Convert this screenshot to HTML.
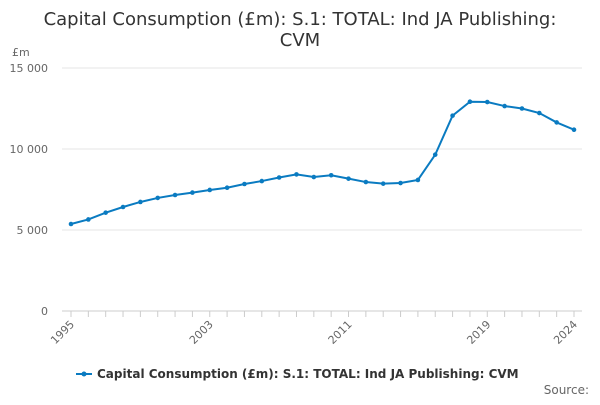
<!DOCTYPE html>
<html><head><meta charset="utf-8"><style>
body{margin:0;background:#fff;font-family:"Liberation Sans","DejaVu Sans",sans-serif;}
svg text{font-family:"DejaVu Sans","Liberation Sans",sans-serif;}
</style></head><body>
<svg id="chart" width="600" height="400">
<text x="300" y="25" text-anchor="middle" font-size="18" fill="#333">Capital Consumption (£m): S.1: TOTAL: Ind JA Publishing:</text>
<text x="300" y="46" text-anchor="middle" font-size="18" fill="#333">CVM</text>
<text x="12" y="56" font-size="11" fill="#666">£m</text>
<g id="grid"></g><g id="xaxis"></g><g id="series"></g>
<g>
<line x1="76" y1="374" x2="92" y2="374" stroke="#0a7bc1" stroke-width="2"/>
<circle cx="84" cy="374" r="2.5" fill="#0a7bc1"/>
<text x="97" y="378" font-size="12" font-weight="bold" fill="#333">Capital Consumption (£m): S.1: TOTAL: Ind JA Publishing: CVM</text>
</g>
<text x="589" y="394" text-anchor="end" font-size="12" fill="#666">Source:</text>
</svg>
<script>
const years=[1995,1996,1997,1998,1999,2000,2001,2002,2003,2004,2005,2006,2007,2008,2009,2010,2011,2012,2013,2014,2015,2016,2017,2018,2019,2020,2021,2022,2023,2024];
const values=[5370,5650,6070,6420,6730,6980,7160,7310,7470,7610,7840,8020,8240,8430,8270,8380,8170,7960,7860,7900,8090,9650,12060,12920,12900,12650,12500,12220,11640,11190];
const yTicks=[0,5000,10000,15000];
const yTickLabels=["0","5 000","10 000","15 000"];
const xTickYears=[1995,2003,2011,2019,2024];
const NS="http://www.w3.org/2000/svg";
const xS=y=>71+(y-1995)*(574-71)/29;
const yS=v=>311-v*(311-68)/15000;
function mk(t,a,p){const e=document.createElementNS(NS,t);for(const k in a)e.setAttribute(k,a[k]);p.appendChild(e);return e;}
const grid=document.getElementById('grid');
yTicks.forEach((v,i)=>{
 const l=mk('line',{x1:62,x2:582,y1:yS(v),y2:yS(v),stroke:v===0?'#ccc':'#e6e6e6'},grid);
 
 
 const t=mk('text',{x:48,y:yS(v)+4,'text-anchor':'end','font-size':11,fill:'#666'},grid);
 t.textContent=yTickLabels[i];
 
 
});
const xa=document.getElementById('xaxis');
years.forEach(y=>{
 const l=mk('line',{x1:xS(y),x2:xS(y),y1:311,y2:317,stroke:'#ccc'},xa);
 
 
});
xTickYears.forEach(y=>{
 const x=xS(y),yy=325;
 const t=mk('text',{x:x+4,y:yy,'text-anchor':'end','font-size':11,fill:'#666',transform:`rotate(-45 ${x+4} ${yy})`},xa);
 t.textContent=y;
 
 
});
const s=document.getElementById('series');
const p=mk('polyline',{points:years.map((y,i)=>xS(y)+','+yS(values[i])).join(' '),fill:'none',stroke:'#0a7bc1','stroke-width':2},s);


years.forEach((y,i)=>{
 const c=mk('circle',{cx:xS(y),cy:yS(values[i]),r:2.3,fill:'#0a7bc1'},s);
 
 
});
</script>
</body></html>
